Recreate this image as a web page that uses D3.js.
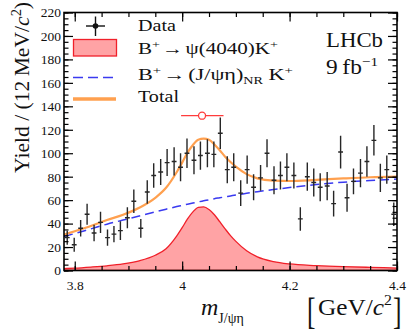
<!DOCTYPE html>
<html lang="en">
<head>
<meta charset="utf-8">
<title>LHCb: J/psi eta mass spectrum</title>
<script src="https://cdn.jsdelivr.net/npm/d3@7"></script>
<style>
  body { margin: 0; background: #fff; }
  svg text { font-family: "Liberation Serif", "Times New Roman", serif; fill: #111; }
</style>
</head>
<body>
<script>

// Data: bin centres (GeV), yields and errors per 12 MeV bin
var binMass = [3.786, 3.799, 3.811, 3.823, 3.836, 3.848, 3.861, 3.873, 3.885, 3.898,
               3.910, 3.923, 3.935, 3.947, 3.960, 3.972, 3.985, 3.997, 4.009, 4.022,
               4.034, 4.047, 4.059, 4.071, 4.084, 4.096, 4.109, 4.121, 4.133, 4.146,
               4.158, 4.171, 4.183, 4.195, 4.208, 4.220, 4.233, 4.245, 4.257, 4.270,
               4.282, 4.295, 4.307, 4.319, 4.332, 4.344, 4.357, 4.369, 4.381, 4.394];
var yieldVals = [28, 22, 36, 48, 32, 41, 28, 31, 34, 45,
                 59, 36, 67, 81, 84, 92, 93, 88, 100, 94,
                 98, 100, 99, 117, 86, 88, 66, 86, 71, 79,
                 100, 77, 81, 88, 81, 44, 80, 75, 71, 72,
                 57, 101, 62, 76, 83, 93, 111, 79, 86, 48];
var yieldErr = [6, 6, 7, 9, 7, 9, 7, 7, 8, 9,
                10, 8, 10, 10.5, 11, 11.5, 12, 12, 12.5, 12,
                12, 12, 11, 13.5, 11.5, 12, 11, 12, 11, 11,
                12, 12, 12, 12, 11, 10, 12, 12, 12, 12,
                11, 14, 12, 11, 12, 13, 13, 12, 12, 10];

// Fit components, sampled along the mass axis
var curveMass = [3.78, 3.80, 3.83, 3.86, 3.89, 3.92, 3.95, 3.97, 3.99, 4.00,
                 4.01, 4.02, 4.03, 4.04, 4.05, 4.06, 4.07, 4.08, 4.09, 4.10,
                 4.12, 4.14, 4.17, 4.20, 4.25, 4.30, 4.35, 4.40];
var sigCurve = [1.6, 2.0, 2.9, 4.0, 5.6, 8.3, 13, 18.5, 29.5, 36.5,
                44, 50, 53.8, 54.3, 52, 47.5, 41.6, 35.5, 29.7, 24.8,
                16.8, 11.6, 7.6, 5.6, 4.2, 3.3, 2.7, 2.1];
var bkgCurve = [29, 31.5, 35.5, 39.5, 43, 46.5, 50, 52.3, 54.5, 55.5,
                56.5, 57.5, 58.5, 59.4, 60.3, 61.2, 62, 62.8, 63.6, 64.4,
                65.8, 67.2, 69, 70.8, 73.3, 75.3, 76.8, 78];
var totCurve = [30.5, 33.5, 38, 43, 47.5, 53.5, 62, 70.5, 84, 92,
                100.5, 107, 111.5, 112.5, 111.5, 107.5, 102.5, 97, 92.5, 88.5,
                82.2, 78.6, 76.6, 76.3, 77.3, 78.5, 79.5, 80];

// psi(4040) reference point
var refMass = [4.037];
var refLo = [3.998];
var refHi = [4.077];
var refY = [132];

var massTicks = [3.8, 4.0, 4.2, 4.4];
var massTickLabels = ["3.8", "4", "4.2", "4.4"];
var yieldTicks = [0, 20, 40, 60, 80, 100, 120, 140, 160, 180, 200, 220];
var yieldTickLabels = ["0", "20", "40", "60", "80", "100", "120", "140", "160", "180", "200", "220"];

//Size and frame
var w = 407, h = 331;
var fl = 64, fr = 397, ft = 12.5, fb = 270.5;

var x = d3.scaleLinear().domain([3.78, 4.4]).range([fl, fr]);
var y = d3.scaleLinear().domain([0, 220]).range([fb, ft]);

var svg = d3.select("body").append("svg")
  .attr("width", w).attr("height", h);

svg.append("defs").append("clipPath").attr("id", "clip")
  .append("rect").attr("x", fl).attr("y", ft).attr("width", fr - fl).attr("height", fb - ft);

var plot = svg.append("g").attr("clip-path", "url(#clip)");

//Signal area
plot.append("path")
  .datum(curveMass)
  .attr("d", d3.area()
    .x(function(d) { return x(d); })
    .y0(y(0))
    .y1(function(d, i) { return y(sigCurve[i]); })
    .curve(d3.curveMonotoneX))
  .attr("fill", "#ffa3a5")
  .attr("stroke", "#f0202a")
  .attr("stroke-width", 1.3);

//Background
plot.append("path")
  .datum(curveMass)
  .attr("d", d3.line()
    .x(function(d) { return x(d); })
    .y(function(d, i) { return y(bkgCurve[i]); })
    .curve(d3.curveMonotoneX))
  .attr("fill", "none")
  .attr("stroke", "#3a3af0")
  .attr("stroke-width", 1.5)
  .attr("stroke-dasharray", "9,5");

//Total
plot.append("path")
  .datum(curveMass)
  .attr("d", d3.line()
    .x(function(d) { return x(d); })
    .y(function(d, i) { return y(totCurve[i]); })
    .curve(d3.curveMonotoneX))
  .attr("fill", "none")
  .attr("stroke", "#ffa04f")
  .attr("stroke-width", 2.2);

//Data points
var halfBin = 0.0045;
var pts = plot.append("g").attr("stroke", "#262626").attr("stroke-width", 1.4);
pts.selectAll("line.v")
  .data(binMass)
  .enter()
  .append("line")
  .attr("class", "v")
  .attr("x1", function(d) { return x(d); })
  .attr("x2", function(d) { return x(d); })
  .attr("y1", function(d, i) { return y(yieldVals[i] - yieldErr[i]); })
  .attr("y2", function(d, i) { return y(yieldVals[i] + yieldErr[i]); });
pts.selectAll("line.h")
  .data(binMass)
  .enter()
  .append("line")
  .attr("class", "h")
  .attr("x1", function(d) { return x(d - halfBin); })
  .attr("x2", function(d) { return x(d + halfBin); })
  .attr("y1", function(d, i) { return y(yieldVals[i]); })
  .attr("y2", function(d, i) { return y(yieldVals[i]); });

//Reference marker
var ref = plot.append("g");
ref.selectAll("line")
  .data(refMass)
  .enter()
  .append("line")
  .attr("x1", function(d, i) { return x(refLo[i]); })
  .attr("x2", function(d, i) { return x(refHi[i]); })
  .attr("y1", function(d, i) { return y(refY[i]); })
  .attr("y2", function(d, i) { return y(refY[i]); })
  .attr("stroke", "#ff3c3c")
  .attr("stroke-width", 1.3);
ref.selectAll("circle")
  .data(refMass)
  .enter()
  .append("circle")
  .attr("cx", function(d) { return x(d); })
  .attr("cy", function(d, i) { return y(refY[i]); })
  .attr("r", 3.5)
  .attr("fill", "#fff")
  .attr("stroke", "#ff3c3c")
  .attr("stroke-width", 1.3);

//Axes (ticks point inward)
var xMinor = d3.range(3.8, 4.401, 0.05);
var yMinor = d3.range(0, 220.1, 5);

function styleAxis(g) {
  g.select(".domain").remove();
  g.selectAll(".tick line").attr("stroke", "#000").attr("stroke-width", 1.2);
  g.selectAll(".tick text")
    .attr("font-family", "Liberation Serif, serif")
    .attr("font-size", 13.5)
    .attr("fill", "#111");
}

svg.append("g").attr("transform", "translate(0," + fb + ")")
  .call(d3.axisBottom(x).tickValues(xMinor).tickSize(-4.5).tickFormat(""))
  .call(styleAxis);
svg.append("g").attr("transform", "translate(0," + fb + ")")
  .call(d3.axisBottom(x).tickValues(massTicks).tickSize(-9).tickPadding(10)
    .tickFormat(function(d, i) { return massTickLabels[i]; }))
  .call(styleAxis);
svg.append("g").attr("transform", "translate(0," + ft + ")")
  .call(d3.axisTop(x).tickValues(xMinor).tickSize(-4.5).tickFormat(""))
  .call(styleAxis);
svg.append("g").attr("transform", "translate(0," + ft + ")")
  .call(d3.axisTop(x).tickValues(massTicks).tickSize(-9).tickFormat(""))
  .call(styleAxis);

svg.append("g").attr("transform", "translate(" + fl + ",0)")
  .call(d3.axisLeft(y).tickValues(yMinor).tickSize(-4.5).tickFormat(""))
  .call(styleAxis);
svg.append("g").attr("transform", "translate(" + fl + ",0)")
  .call(d3.axisLeft(y).tickValues(yieldTicks).tickSize(-9).tickPadding(3)
    .tickFormat(function(d, i) { return yieldTickLabels[i]; }))
  .call(styleAxis);
svg.append("g").attr("transform", "translate(" + fr + ",0)")
  .call(d3.axisRight(y).tickValues(yMinor).tickSize(-4.5).tickFormat(""))
  .call(styleAxis);
svg.append("g").attr("transform", "translate(" + fr + ",0)")
  .call(d3.axisRight(y).tickValues(yieldTicks).tickSize(-9).tickFormat(""))
  .call(styleAxis);

//Frame
svg.append("rect")
  .attr("x", fl).attr("y", ft).attr("width", fr - fl).attr("height", fb - ft)
  .attr("fill", "none").attr("stroke", "#000").attr("stroke-width", 1.6);

//Text helper: stretched to the width seen in the picture
function txt(px, py, size, width) {
  var t = svg.append("text").attr("x", px).attr("y", py).attr("font-size", size);
  if (width) t.attr("textLength", width).attr("lengthAdjust", "spacingAndGlyphs");
  return t;
}

//Legend
var lg = svg.append("g");
lg.append("line").attr("x1", 86).attr("x2", 105).attr("y1", 26).attr("y2", 26)
  .attr("stroke", "#111").attr("stroke-width", 1.4);
lg.append("line").attr("x1", 95.5).attr("x2", 95.5).attr("y1", 16.5).attr("y2", 36)
  .attr("stroke", "#111").attr("stroke-width", 1.4);
lg.append("circle").attr("cx", 95.5).attr("cy", 26).attr("r", 2.8).attr("fill", "#111");

lg.append("rect").attr("x", 73.5).attr("y", 39.5).attr("width", 43).attr("height", 16.5)
  .attr("fill", "#ffa3a5").attr("stroke", "#f0202a").attr("stroke-width", 1.3);
lg.append("line").attr("x1", 73).attr("x2", 114).attr("y1", 77.5).attr("y2", 77.5)
  .attr("stroke", "#3a3af0").attr("stroke-width", 1.6).attr("stroke-dasharray", "10,5");
lg.append("line").attr("x1", 73).attr("x2", 116).attr("y1", 99).attr("y2", 99)
  .attr("stroke", "#ffa04f").attr("stroke-width", 3.5);

txt(138, 31, 16.5, 38).text("Data");

var t2 = txt(138, 54, 16.5, 140);
t2.append("tspan").text("B");
t2.append("tspan").attr("font-size", 11).attr("dy", -6).text("+");
t2.append("tspan").attr("dy", 6).attr("dx", 1.5).text("\u2192");
t2.append("tspan").attr("dx", 2).text("\u03c8(4040)K");
t2.append("tspan").attr("font-size", 11).attr("dy", -6).text("+");

var t3 = txt(138, 80, 16.5, 155);
t3.append("tspan").text("B");
t3.append("tspan").attr("font-size", 11).attr("dy", -6).text("+");
t3.append("tspan").attr("dy", 6).attr("dx", 1.5).text("\u2192");
t3.append("tspan").attr("dx", 2).text("(J/\u03c8\u03b7)");
t3.append("tspan").attr("font-size", 10.5).attr("dy", 4).text("NR");
t3.append("tspan").attr("dy", -4).text(" K");
t3.append("tspan").attr("font-size", 11).attr("dy", -6).text("+");

txt(138, 101.7, 16.5, 41).text("Total");

txt(326, 46.7, 20, 57).text("LHCb");
var t5 = txt(326, 74, 20, 52);
t5.append("tspan").text("9\u2009fb");
t5.append("tspan").attr("font-size", 13).attr("dy", -8).text("\u22121");

//Y title
var yt = svg.append("text")
  .attr("transform", "translate(29,2) rotate(-90)")
  .attr("text-anchor", "end")
  .attr("font-size", 21)
  .attr("textLength", 171).attr("lengthAdjust", "spacingAndGlyphs");
yt.append("tspan").text("Yield / (12\u2009MeV/");
yt.append("tspan").attr("font-style", "italic").text("c");
yt.append("tspan").attr("font-size", 14).attr("dy", -8).text("2");
yt.append("tspan").attr("dy", 8).text(")");

//X title
var xt = svg.append("text").attr("x", 201).attr("y", 315).attr("font-size", 24);
xt.append("tspan").attr("font-style", "italic").text("m");
xt.append("tspan").attr("font-size", 14).attr("dy", 8).text("J/\u03c8\u03b7");

svg.append("text").attr("transform", "translate(307,324) scale(0.75,1.1)")
  .attr("font-size", 34).text("[");
var xu = txt(318, 315, 24, 74);
xu.append("tspan").text("GeV/");
xu.append("tspan").attr("font-style", "italic").text("c");
xu.append("tspan").attr("font-size", 15).attr("dy", -10).text("2");
svg.append("text").attr("transform", "translate(393,324) scale(0.75,1.1)")
  .attr("font-size", 34).text("]");

</script>
</body>
</html>
